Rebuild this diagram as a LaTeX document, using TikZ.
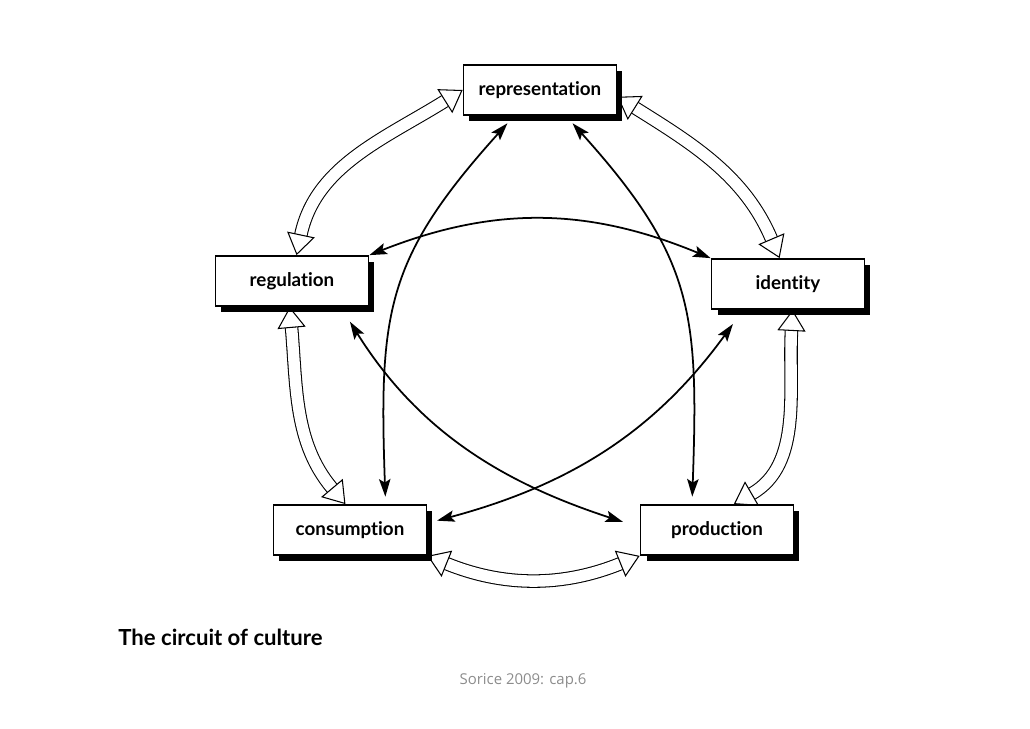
\documentclass[tikz,border=0pt]{standalone}
\usepackage{fontspec}
\setmainfont{Lato}[Ligatures={NoCommon, NoRare}]
\newfontfamily\notefont{Open Sans}
\usetikzlibrary{arrows.meta, shadows}

\begin{document}
\begin{tikzpicture}[x=0.02cm, y=0.02cm,
  box/.style={rectangle, draw, fill=white, line width=1pt, minimum width=3.06cm, minimum height=1cm,
              font=\fontsize{10.7}{12}\selectfont\bfseries,
              drop shadow={shadow xshift=3.4pt, shadow yshift=-3.4pt, fill=black, opacity=1}},
  arrow/.style={{Stealth[length=10pt, width=6.5pt, inset=2pt]}-{Stealth[length=10pt, width=6.5pt, inset=2pt]},
                line width=1pt},
  hollow/.style={{Triangle[open, length=12pt, width=16pt, line width=0.6pt]}-{Triangle[open, length=12pt, width=16pt, line width=0.6pt]},
                 double=white, double distance=6.5pt, line width=0.6pt}]

  \useasboundingbox (0,0) rectangle (1030,728);

  \node[box] (Re) at (540,638) {representation};
  \node[box] (Rg) at (292,447) {regulation};
  \node[box] (Id) at (788,444) {identity};
  \node[box] (Co) at (350,198) {consumption};
  \node[box] (Pr) at (717,198) {production};

  \draw[hollow] (Re.west) to[out=212, in=78] (Rg.80);
  \draw[hollow] (Re.-5) to[out=-32, in=113] (Id.108);
  \draw[hollow] (Rg.-95) to[out=-85, in=130] (Co.100);
  \draw[hollow] (Id.-80) to[out=-93, in=30] (Pr.57);
  \draw[hollow] (Co.south east) to[bend right=22] (Pr.south west);

  \draw[arrow, shorten <=0.2cm, shorten >=0.15cm] (Re.-135) to[out=228, in=92, looseness=1.2] (Co.36);
  \draw[arrow, shorten <=0.2cm, shorten >=0.15cm] (Re.-45) to[out=-48, in=88, looseness=1.2] (Pr.134);
  \draw[arrow] (Rg.north east) to[bend left=22] (Id.north west);
  \draw[arrow, shorten <=0.35cm, shorten >=0.35cm] (Rg.-28) to[out=-58, in=162] (Pr.178);
  \draw[arrow, shorten <=0.35cm, shorten >=0.2cm] (Id.-150) to[out=-126, in=15] (Co.5);

  \node[anchor=base west, inner sep=0pt, font=\fontsize{12.6}{15}\selectfont\bfseries] (title) at (118,83) {The circuit of culture};
  \node[font=\notefont\fontsize{8.5}{10}\selectfont, text=black!45] (src) at (523,47) {Sorice 2009: cap.6};
\end{tikzpicture}
\end{document}
